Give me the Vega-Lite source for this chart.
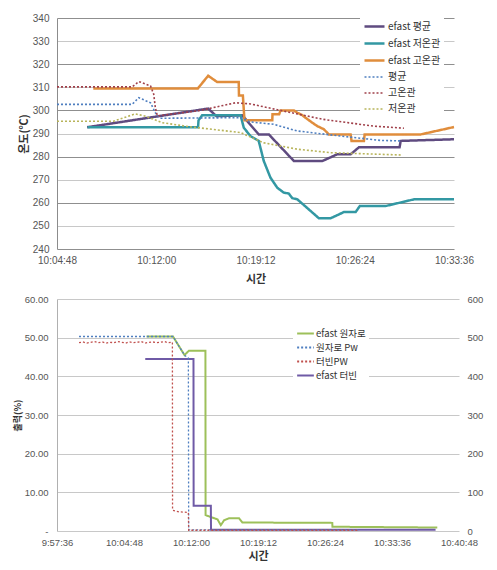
{
  "$schema": "https://vega.github.io/schema/vega-lite/v6.json",
  "background": "white",
  "padding": {"left": 13, "top": 12, "right": 4, "bottom": 4},
  "spacing": 10,
  "resolve": {
    "scale": {"color": "independent", "strokeDash": "independent", "strokeWidth": "independent"},
    "legend": {"color": "independent", "strokeDash": "independent", "strokeWidth": "independent"}
  },
  "config": {
    "view": {"stroke": null},
    "axis": {
      "labelFont": "Liberation Sans",
      "labelColor": "#555555",
      "labelFontSize": 10,
      "titleFont": "Noto Sans CJK KR",
      "titleColor": "#333333",
      "ticks": false,
      "domainColor": "#8c8c8c"
    },
    "legend": {
      "labelFont": "Noto Sans CJK KR",
      "labelColor": "#333333",
      "labelFontSize": 10
    }
  },
  "datasets": {
    "top": [
      {"t": "10:06:59", "v": 292.7, "s": "efast 평균"},
      {"t": "10:15:46", "v": 300.8, "s": "efast 평균"},
      {"t": "10:16:22", "v": 297.5, "s": "efast 평균"},
      {"t": "10:18:14", "v": 297.9, "s": "efast 평균"},
      {"t": "10:19:26", "v": 289.6, "s": "efast 평균"},
      {"t": "10:20:10", "v": 289.6, "s": "efast 평균"},
      {"t": "10:21:59", "v": 278.1, "s": "efast 평균"},
      {"t": "10:24:03", "v": 278.1, "s": "efast 평균"},
      {"t": "10:25:08", "v": 281.0, "s": "efast 평균"},
      {"t": "10:26:06", "v": 281.0, "s": "efast 평균"},
      {"t": "10:26:42", "v": 284.0, "s": "efast 평균"},
      {"t": "10:29:39", "v": 284.0, "s": "efast 평균"},
      {"t": "10:29:44", "v": 286.8, "s": "efast 평균"},
      {"t": "10:33:36", "v": 287.5, "s": "efast 평균"},

      {"t": "10:07:01", "v": 292.7, "s": "efast 저온관"},
      {"t": "10:15:02", "v": 292.7, "s": "efast 저온관"},
      {"t": "10:15:04", "v": 295.7, "s": "efast 저온관"},
      {"t": "10:15:20", "v": 297.9, "s": "efast 저온관"},
      {"t": "10:18:07", "v": 297.9, "s": "efast 저온관"},
      {"t": "10:18:21", "v": 292.5, "s": "efast 저온관"},
      {"t": "10:18:50", "v": 288.9, "s": "efast 저온관"},
      {"t": "10:19:26", "v": 286.8, "s": "efast 저온관"},
      {"t": "10:19:48", "v": 278.1, "s": "efast 저온관"},
      {"t": "10:20:17", "v": 270.9, "s": "efast 저온관"},
      {"t": "10:20:47", "v": 266.5, "s": "efast 저온관"},
      {"t": "10:21:15", "v": 264.4, "s": "efast 저온관"},
      {"t": "10:21:37", "v": 264.0, "s": "efast 저온관"},
      {"t": "10:21:52", "v": 262.0, "s": "efast 저온관"},
      {"t": "10:22:14", "v": 261.5, "s": "efast 저온관"},
      {"t": "10:23:48", "v": 253.3, "s": "efast 저온관"},
      {"t": "10:24:39", "v": 253.3, "s": "efast 저온관"},
      {"t": "10:25:37", "v": 256.0, "s": "efast 저온관"},
      {"t": "10:26:28", "v": 256.0, "s": "efast 저온관"},
      {"t": "10:26:46", "v": 258.6, "s": "efast 저온관"},
      {"t": "10:28:38", "v": 258.6, "s": "efast 저온관"},
      {"t": "10:30:42", "v": 261.5, "s": "efast 저온관"},
      {"t": "10:33:36", "v": 261.5, "s": "efast 저온관"},

      {"t": "10:07:26", "v": 309.5, "s": "efast 고온관"},
      {"t": "10:15:01", "v": 309.5, "s": "efast 고온관"},
      {"t": "10:15:46", "v": 315.0, "s": "efast 고온관"},
      {"t": "10:16:25", "v": 312.3, "s": "efast 고온관"},
      {"t": "10:17:59", "v": 312.3, "s": "efast 고온관"},
      {"t": "10:18:00", "v": 306.5, "s": "efast 고온관"},
      {"t": "10:18:17", "v": 306.5, "s": "efast 고온관"},
      {"t": "10:18:24", "v": 295.7, "s": "efast 고온관"},
      {"t": "10:20:25", "v": 295.7, "s": "efast 고온관"},
      {"t": "10:20:26", "v": 298.3, "s": "efast 고온관"},
      {"t": "10:20:55", "v": 298.3, "s": "efast 고온관"},
      {"t": "10:21:01", "v": 300.0, "s": "efast 고온관"},
      {"t": "10:21:59", "v": 300.0, "s": "efast 고온관"},
      {"t": "10:22:14", "v": 299.0, "s": "efast 고온관"},
      {"t": "10:22:35", "v": 298.0, "s": "efast 고온관"},
      {"t": "10:22:50", "v": 296.8, "s": "efast 고온관"},
      {"t": "10:23:19", "v": 294.7, "s": "efast 고온관"},
      {"t": "10:23:41", "v": 293.2, "s": "efast 고온관"},
      {"t": "10:24:10", "v": 291.8, "s": "efast 고온관"},
      {"t": "10:24:31", "v": 289.6, "s": "efast 고온관"},
      {"t": "10:26:06", "v": 289.6, "s": "efast 고온관"},
      {"t": "10:26:10", "v": 286.8, "s": "efast 고온관"},
      {"t": "10:27:04", "v": 286.8, "s": "efast 고온관"},
      {"t": "10:27:07", "v": 289.6, "s": "efast 고온관"},
      {"t": "10:31:11", "v": 289.6, "s": "efast 고온관"},
      {"t": "10:33:36", "v": 292.8, "s": "efast 고온관"},

      {"t": "10:04:48", "v": 302.6, "s": "평균"},
      {"t": "10:10:15", "v": 302.6, "s": "평균"},
      {"t": "10:10:44", "v": 305.5, "s": "평균"},
      {"t": "10:11:35", "v": 303.3, "s": "평균"},
      {"t": "10:11:56", "v": 299.0, "s": "평균"},
      {"t": "10:12:18", "v": 296.6, "s": "평균"},
      {"t": "10:16:53", "v": 296.8, "s": "평균"},
      {"t": "10:18:07", "v": 296.8, "s": "평균"},
      {"t": "10:18:50", "v": 295.0, "s": "평균"},
      {"t": "10:20:30", "v": 294.0, "s": "평균"},
      {"t": "10:22:14", "v": 291.1, "s": "평균"},
      {"t": "10:25:22", "v": 288.9, "s": "평균"},
      {"t": "10:28:17", "v": 287.0, "s": "평균"},
      {"t": "10:29:44", "v": 286.8, "s": "평균"},

      {"t": "10:04:48", "v": 310.2, "s": "고온관"},
      {"t": "10:10:15", "v": 310.2, "s": "고온관"},
      {"t": "10:10:44", "v": 312.5, "s": "고온관"},
      {"t": "10:11:35", "v": 310.6, "s": "고온관"},
      {"t": "10:11:49", "v": 307.0, "s": "고온관"},
      {"t": "10:11:56", "v": 301.2, "s": "고온관"},
      {"t": "10:12:05", "v": 297.6, "s": "고온관"},
      {"t": "10:15:12", "v": 300.0, "s": "고온관"},
      {"t": "10:17:45", "v": 303.3, "s": "고온관"},
      {"t": "10:18:50", "v": 302.8, "s": "고온관"},
      {"t": "10:21:15", "v": 299.7, "s": "고온관"},
      {"t": "10:24:08", "v": 296.1, "s": "고온관"},
      {"t": "10:27:46", "v": 293.2, "s": "고온관"},
      {"t": "10:29:58", "v": 292.3, "s": "고온관"},

      {"t": "10:04:48", "v": 295.3, "s": "저온관"},
      {"t": "10:08:53", "v": 295.3, "s": "저온관"},
      {"t": "10:10:29", "v": 298.5, "s": "저온관"},
      {"t": "10:11:13", "v": 297.5, "s": "저온관"},
      {"t": "10:12:25", "v": 294.7, "s": "저온관"},
      {"t": "10:14:20", "v": 293.0, "s": "저온관"},
      {"t": "10:18:07", "v": 290.4, "s": "저온관"},
      {"t": "10:19:47", "v": 286.0, "s": "저온관"},
      {"t": "10:22:14", "v": 283.2, "s": "저온관"},
      {"t": "10:24:39", "v": 281.7, "s": "저온관"},
      {"t": "10:29:44", "v": 280.7, "s": "저온관"}
    ],
    "bl": [
      {"t": "10:07:13", "v": 50.3, "s": "efast 원자로"},
      {"t": "10:10:04", "v": 50.3, "s": "efast 원자로"},
      {"t": "10:11:18", "v": 45.5, "s": "efast 원자로"},
      {"t": "10:11:46", "v": 46.6, "s": "efast 원자로"},
      {"t": "10:13:33", "v": 46.6, "s": "efast 원자로"},
      {"t": "10:13:34", "v": 4.1, "s": "efast 원자로"},
      {"t": "10:14:30", "v": 3.3, "s": "efast 원자로"},
      {"t": "10:14:51", "v": 3.0, "s": "efast 원자로"},
      {"t": "10:15:12", "v": 1.5, "s": "efast 원자로"},
      {"t": "10:15:34", "v": 2.8, "s": "efast 원자로"},
      {"t": "10:16:06", "v": 3.3, "s": "efast 원자로"},
      {"t": "10:17:10", "v": 3.3, "s": "efast 원자로"},
      {"t": "10:17:31", "v": 2.2, "s": "efast 원자로"},
      {"t": "10:27:11", "v": 2.1, "s": "efast 원자로"},
      {"t": "10:27:12", "v": 1.1, "s": "efast 원자로"},
      {"t": "10:38:28", "v": 0.9, "s": "efast 원자로"},

      {"t": "10:07:05", "v": 44.5, "s": "efast 터빈"},
      {"t": "10:12:16", "v": 44.5, "s": "efast 터빈"},
      {"t": "10:12:17", "v": 6.5, "s": "efast 터빈"},
      {"t": "10:14:08", "v": 6.5, "s": "efast 터빈"},
      {"t": "10:14:09", "v": 0.3, "s": "efast 터빈"},
      {"t": "10:38:17", "v": 0.3, "s": "efast 터빈"}
    ],
    "br": [
      {"t": "09:59:58", "v": 503, "s": "원자로 Pw"},
      {"t": "10:10:04", "v": 503, "s": "원자로 Pw"},
      {"t": "10:11:18", "v": 455, "s": "원자로 Pw"},
      {"t": "10:11:43", "v": 447, "s": "원자로 Pw"},
      {"t": "10:11:45", "v": 3, "s": "원자로 Pw"},
      {"t": "10:30:05", "v": 3, "s": "원자로 Pw"},

      {"t": "09:59:58", "v": 487, "s": "터빈PW"},
      {"t": "10:00:23", "v": 489, "s": "터빈PW"},
      {"t": "10:00:48", "v": 486, "s": "터빈PW"},
      {"t": "10:01:13", "v": 488, "s": "터빈PW"},
      {"t": "10:01:38", "v": 490, "s": "터빈PW"},
      {"t": "10:02:03", "v": 487, "s": "터빈PW"},
      {"t": "10:02:28", "v": 489, "s": "터빈PW"},
      {"t": "10:02:53", "v": 486, "s": "터빈PW"},
      {"t": "10:03:18", "v": 488, "s": "터빈PW"},
      {"t": "10:03:43", "v": 487, "s": "터빈PW"},
      {"t": "10:04:08", "v": 490, "s": "터빈PW"},
      {"t": "10:04:33", "v": 488, "s": "터빈PW"},
      {"t": "10:04:58", "v": 486, "s": "터빈PW"},
      {"t": "10:05:23", "v": 489, "s": "터빈PW"},
      {"t": "10:05:48", "v": 487, "s": "터빈PW"},
      {"t": "10:06:13", "v": 488, "s": "터빈PW"},
      {"t": "10:06:38", "v": 490, "s": "터빈PW"},
      {"t": "10:07:03", "v": 486, "s": "터빈PW"},
      {"t": "10:07:28", "v": 488, "s": "터빈PW"},
      {"t": "10:07:53", "v": 489, "s": "터빈PW"},
      {"t": "10:08:18", "v": 487, "s": "터빈PW"},
      {"t": "10:08:43", "v": 488, "s": "터빈PW"},
      {"t": "10:09:08", "v": 490, "s": "터빈PW"},
      {"t": "10:09:33", "v": 487, "s": "터빈PW"},
      {"t": "10:10:00", "v": 488, "s": "터빈PW"},
      {"t": "10:10:01", "v": 54, "s": "터빈PW"},
      {"t": "10:10:35", "v": 50, "s": "터빈PW"},
      {"t": "10:11:43", "v": 48, "s": "터빈PW"},
      {"t": "10:11:45", "v": 2, "s": "터빈PW"},
      {"t": "10:30:05", "v": 2, "s": "터빈PW"}
    ]
  },
  "vconcat": [
    {
      "width": 397,
      "height": 231,
      "data": {"name": "top", "format": {"parse": {"t": "date:'%H:%M:%S'"}}},
      "mark": {"type": "line"},
      "encoding": {
        "x": {
          "field": "t", "type": "temporal",
          "scale": {"domain": [
            {"year": 1900, "month": 1, "date": 1, "hours": 10, "minutes": 4, "seconds": 48},
            {"year": 1900, "month": 1, "date": 1, "hours": 10, "minutes": 33, "seconds": 36}
          ]},
          "axis": {
            "values": [
              {"year": 1900, "month": 1, "date": 1, "hours": 10, "minutes": 4, "seconds": 48},
              {"year": 1900, "month": 1, "date": 1, "hours": 10, "minutes": 12, "seconds": 0},
              {"year": 1900, "month": 1, "date": 1, "hours": 10, "minutes": 19, "seconds": 12},
              {"year": 1900, "month": 1, "date": 1, "hours": 10, "minutes": 26, "seconds": 24},
              {"year": 1900, "month": 1, "date": 1, "hours": 10, "minutes": 33, "seconds": 36}
            ],
            "format": "%H:%M:%S",
            "labelFlush": false,
            "labelOverlap": false,
            "grid": false,
            "domain": false,
            "labelPadding": 6,
            "labelFontSize": 10,
            "title": "시간",
            "titleFontSize": 11,
            "titleFontWeight": "bold",
            "titlePadding": 8
          }
        },
        "y": {
          "field": "v", "type": "quantitative",
          "scale": {"domain": [240, 340], "nice": false, "zero": false},
          "axis": {
            "values": [240, 250, 260, 270, 280, 290, 300, 310, 320, 330, 340],
            "grid": true,
            "gridColor": {"condition": {"test": "datum.value % 20 === 0", "value": "#8f8f8f"}, "value": "#c8c8c8"},
            "domain": true,
            "labelPadding": 8,
            "labelFontSize": 10,
            "title": "온도(℃)",
            "titleFontSize": 11,
            "titleFontWeight": "bold",
            "titlePadding": 3
          }
        },
        "color": {
          "field": "s", "type": "nominal",
          "scale": {
            "domain": ["efast 평균", "efast 저온관", "efast 고온관", "평균", "고온관", "저온관"],
            "range": ["#5f4b80", "#3398a3", "#e08d3c", "#4f7fc0", "#a0404a", "#b8b45a"]
          },
          "legend": {
            "orient": "none", "legendX": 303, "legendY": -6,
            "title": null, "fillColor": "white", "padding": 3,
            "symbolType": "stroke", "symbolSize": 400, "rowPadding": 0,
            "labelOffset": 2
          }
        },
        "strokeDash": {
          "field": "s", "type": "nominal",
          "scale": {
            "domain": ["efast 평균", "efast 저온관", "efast 고온관", "평균", "고온관", "저온관"],
            "range": [[1, 0], [1, 0], [1, 0], [2, 2], [2, 2], [2, 2]]
          },
          "legend": {
            "orient": "none", "legendX": 303, "legendY": -6,
            "title": null, "fillColor": "white", "padding": 3,
            "symbolType": "stroke", "symbolSize": 400, "rowPadding": 0,
            "labelOffset": 2
          }
        },
        "strokeWidth": {
          "field": "s", "type": "nominal",
          "scale": {
            "type": "ordinal",
            "domain": ["efast 평균", "efast 저온관", "efast 고온관", "평균", "고온관", "저온관"],
            "range": [2.5, 2.5, 2.5, 1.6, 1.6, 1.6]
          },
          "legend": {
            "orient": "none", "legendX": 303, "legendY": -6,
            "title": null, "fillColor": "white", "padding": 3,
            "symbolType": "stroke", "symbolSize": 400, "rowPadding": 0,
            "labelOffset": 2
          }
        }
      }
    },
    {
      "width": 402,
      "height": 232,
      "encoding": {
        "x": {
          "field": "t", "type": "temporal",
          "scale": {"domain": [
            {"year": 1900, "month": 1, "date": 1, "hours": 9, "minutes": 57, "seconds": 36},
            {"year": 1900, "month": 1, "date": 1, "hours": 10, "minutes": 40, "seconds": 48}
          ]},
          "axis": {
            "values": [
              {"year": 1900, "month": 1, "date": 1, "hours": 9, "minutes": 57, "seconds": 36},
              {"year": 1900, "month": 1, "date": 1, "hours": 10, "minutes": 4, "seconds": 48},
              {"year": 1900, "month": 1, "date": 1, "hours": 10, "minutes": 12, "seconds": 0},
              {"year": 1900, "month": 1, "date": 1, "hours": 10, "minutes": 19, "seconds": 12},
              {"year": 1900, "month": 1, "date": 1, "hours": 10, "minutes": 26, "seconds": 24},
              {"year": 1900, "month": 1, "date": 1, "hours": 10, "minutes": 33, "seconds": 36},
              {"year": 1900, "month": 1, "date": 1, "hours": 10, "minutes": 40, "seconds": 48}
            ],
            "format": "%-H:%M:%S",
            "labelFlush": false,
            "labelOverlap": false,
            "grid": false,
            "domain": false,
            "labelPadding": 6,
            "labelFontSize": 9.5,
            "title": "시간",
            "titleFontSize": 11,
            "titleFontWeight": "bold",
            "titlePadding": 4
          }
        },
        "color": {
          "field": "s", "type": "nominal",
          "scale": {
            "domain": ["efast 원자로", "원자로 Pw", "터빈PW", "efast 터빈"],
            "range": ["#9dc05a", "#4f7fc0", "#c0504d", "#6f5aa6"]
          },
          "legend": {
            "orient": "none", "legendX": 236, "legendY": 22,
            "title": null, "fillColor": "white", "padding": 3,
            "symbolType": "stroke", "symbolSize": 280, "rowPadding": -1,
            "labelOffset": 1, "labelFontSize": 9.5, "symbolStrokeWidth": 1.8
          }
        },
        "strokeDash": {
          "field": "s", "type": "nominal",
          "scale": {
            "domain": ["efast 원자로", "원자로 Pw", "터빈PW", "efast 터빈"],
            "range": [[1, 0], [2, 2], [2, 2], [1, 0]]
          },
          "legend": {
            "orient": "none", "legendX": 236, "legendY": 22,
            "title": null, "fillColor": "white", "padding": 3,
            "symbolType": "stroke", "symbolSize": 280, "rowPadding": -1,
            "labelOffset": 1, "labelFontSize": 9.5, "symbolStrokeWidth": 1.8
          }
        }
      },
      "layer": [
        {
          "data": {"name": "bl", "format": {"parse": {"t": "date:'%H:%M:%S'"}}},
          "mark": {"type": "line", "strokeWidth": 2},
          "encoding": {
            "y": {
              "field": "v", "type": "quantitative",
              "scale": {"domain": [0, 60], "nice": false},
              "axis": {
                "values": [0, 10, 20, 30, 40, 50, 60],
                "labelExpr": "datum.value === 0 ? '-' : format(datum.value, '.2f')",
                "grid": true,
                "gridColor": "#c8c8c8",
                "domain": true,
                "domainColor": "#b0b0b0",
                "labelPadding": 9,
                "labelFontSize": 9.5,
                "title": "출력(%)",
                "titleFontSize": 9,
                "titleFontWeight": "bold",
                "titlePadding": 2
              }
            }
          }
        },
        {
          "data": {"name": "br", "format": {"parse": {"t": "date:'%H:%M:%S'"}}},
          "mark": {"type": "line", "strokeWidth": 1.3},
          "encoding": {
            "y": {
              "field": "v", "type": "quantitative",
              "scale": {"domain": [0, 600], "nice": false},
              "axis": {
                "orient": "right",
                "values": [0, 100, 200, 300, 400, 500, 600],
                "grid": false,
                "domain": false,
                "labelPadding": 8,
                "labelFontSize": 9.5,
                "title": null
              }
            }
          }
        }
      ],
      "resolve": {"scale": {"y": "independent"}}
    }
  ]
}
